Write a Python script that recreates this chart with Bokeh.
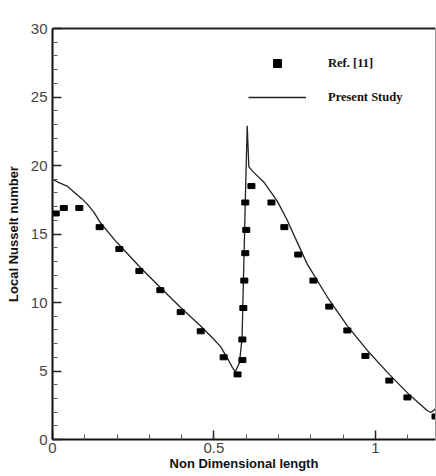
from bokeh.plotting import figure
from bokeh.models import (FixedTicker, LinearAxis, Legend, LegendItem, Range1d)
from bokeh.embed import file_html
from bokeh.resources import INLINE

# Present study (line)
line_x = [0.0, 0.02, 0.045, 0.07, 0.09, 0.107, 0.128, 0.149, 0.195, 0.207, 0.272, 0.334,
          0.396, 0.458, 0.50, 0.52, 0.54, 0.556, 0.566, 0.579, 0.587, 0.590,
          0.595, 0.597, 0.603, 0.608, 0.623, 0.654, 0.696, 0.727, 0.752, 0.789,
          0.851, 0.913, 0.975, 1.037, 1.099, 1.161, 1.172, 1.186]
line_y = [19.0, 18.75, 18.5, 18.0, 17.6, 17.2, 16.6, 15.8, 14.5, 14.2, 12.55, 11.1,
          9.65, 8.3, 7.3, 6.8, 6.0, 5.3, 4.95, 5.6, 7.4, 10.4,
          15.3, 17.4, 22.9, 19.9, 19.5, 18.8, 17.4, 16.0, 14.7, 12.8,
          10.4, 8.3, 6.5, 4.9, 3.4, 2.1, 1.97, 2.25]

# Ref. [11] (squares)
ref_x = [0.01, 0.035, 0.083, 0.146, 0.207, 0.269, 0.334, 0.397, 0.459, 0.53,
         0.573, 0.588, 0.588, 0.591, 0.594, 0.597, 0.600, 0.597, 0.616, 0.678,
         0.718, 0.761, 0.808, 0.857, 0.913, 0.969, 1.043, 1.099, 1.186]
ref_y = [16.5, 16.9, 16.9, 15.5, 13.9, 12.3, 10.9, 9.3, 7.9, 6.0,
         4.75, 5.8, 7.3, 9.6, 11.6, 13.6, 15.3, 17.3, 18.5, 17.3,
         15.5, 13.5, 11.6, 9.7, 7.96, 6.1, 4.3, 3.07, 1.68]

x_major = [0, 0.5, 1]
x_minor = [0.1, 0.2, 0.3, 0.4, 0.6, 0.7, 0.8, 0.9, 1.1]
y_major = [0, 5, 10, 15, 20, 25, 30]
y_minor = [v for v in range(0, 31) if v % 5 != 0]

p = figure(width=436, height=476, output_backend="svg", toolbar_location=None,
           x_range=Range1d(0, 1.186), y_range=Range1d(0, 30),
           min_border_left=52, min_border_top=28, min_border_bottom=37,
           min_border_right=1, x_axis_label="Non Dimensional length",
           y_axis_label="Local Nusselt number")
p.background_fill_color = "white"
p.border_fill_color = "white"
p.outline_line_color = None
p.xgrid.visible = False
p.ygrid.visible = False

for ax, maj, mnr in ((p.xaxis[0], x_major, x_minor), (p.yaxis[0], y_major, y_minor)):
    ax.ticker = FixedTicker(ticks=maj, minor_ticks=mnr)
    ax.axis_line_width = 2
    ax.axis_line_color = "#111111"
    ax.major_tick_in = 9
    ax.major_tick_out = 0
    ax.minor_tick_in = 5
    ax.minor_tick_out = 0
    ax.major_tick_line_color = "#222222"
    ax.minor_tick_line_color = "#555555"
    ax.major_tick_line_width = 1.5
    ax.major_label_text_font = "Liberation Sans"
    ax.major_label_text_font_size = "15px"
    ax.major_label_text_color = "#444444"
    ax.axis_label_text_font = "Liberation Sans"
    ax.axis_label_text_font_style = "bold"
    ax.axis_label_text_font_size = "13px"
    ax.axis_label_text_color = "#111111"

p.xaxis[0].major_label_standoff = 3
p.xaxis[0].axis_label_standoff = 0
p.yaxis[0].major_label_standoff = 5
p.yaxis[0].axis_label_standoff = 7

# top border (thick) and right border (thin)
top = LinearAxis(ticker=FixedTicker(ticks=[]), axis_line_width=2,
                 axis_line_color="#222222", major_label_text_font_size="0px")
p.add_layout(top, "above")
right = LinearAxis(ticker=FixedTicker(ticks=[]), axis_line_width=1,
                   axis_line_color="#999999", major_label_text_font_size="0px")
p.add_layout(right, "right")

ln = p.line(line_x, line_y, line_color="#222222", line_width=1.3)
p.rect(ref_x, ref_y, width=7, height=5, width_units="screen",
       height_units="screen", fill_color="black", line_color="black")

# legend-only glyph (no visible data)
dummy = p.scatter(x=[float("nan")], y=[float("nan")], marker="square", size=9,
                  fill_color="black", line_color="black")

legend = Legend(items=[LegendItem(label="Ref. [11]", renderers=[dummy]),
                       LegendItem(label="Present Study", renderers=[ln])],
                location=(196, 332), glyph_width=58, glyph_height=20,
                label_height=20, spacing=14, padding=0, margin=0,
                label_standoff=22, border_line_color=None,
                background_fill_alpha=0,
                label_text_font="Liberation Serif",
                label_text_font_style="bold",
                label_text_font_size="12.5px", label_text_color="#111111")
p.add_layout(legend, "center")

open("out.html", "w").write(file_html(p, INLINE))
